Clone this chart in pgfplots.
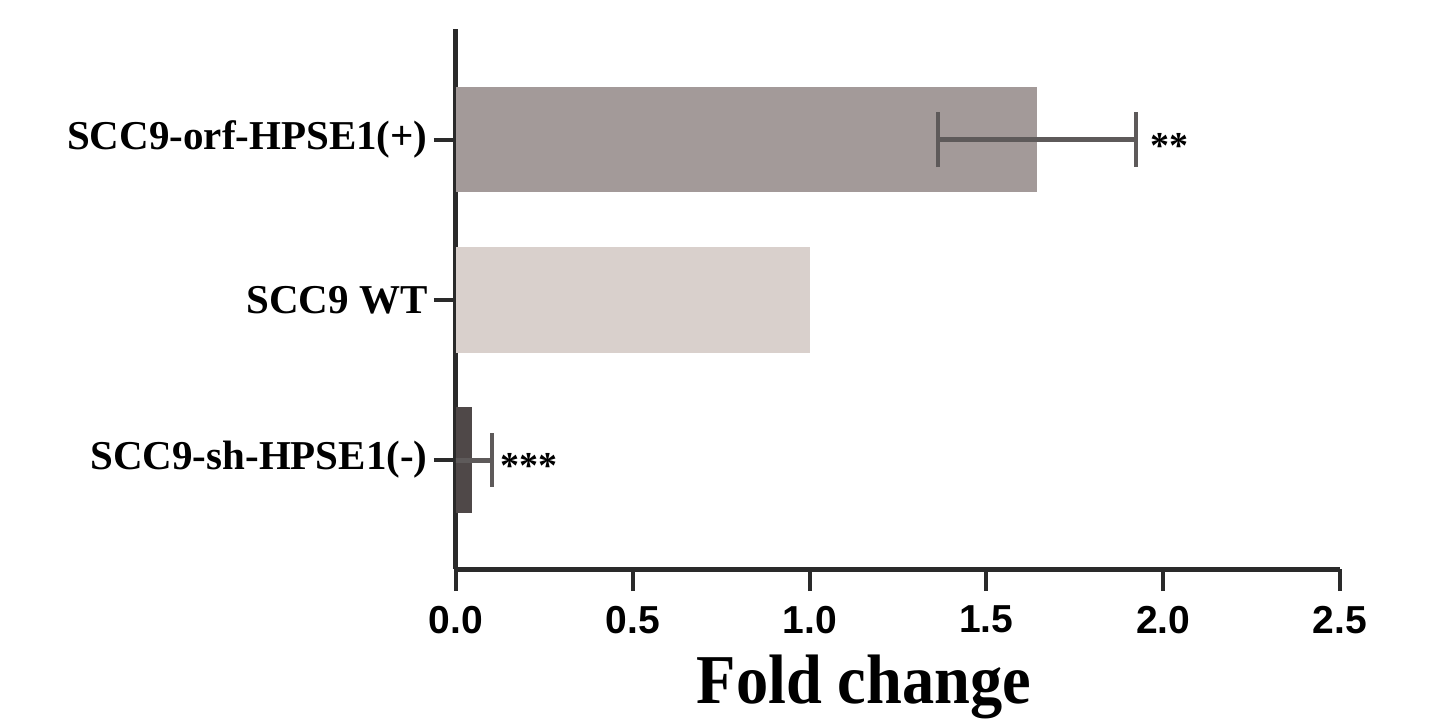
\documentclass[border=0pt]{standalone}
\usepackage{pgfplots}
\pgfplotsset{compat=1.18}
\usepackage{fontspec}
\setmainfont{Liberation Serif}
\newfontfamily\arialb{Liberation Sans}

\definecolor{barup}{HTML}{A39A99}
\definecolor{barwt}{HTML}{D9D0CC}
\definecolor{bardown}{HTML}{4F4848}
\definecolor{axiscol}{HTML}{2A2A2A}
\definecolor{errcol}{HTML}{5E5A5A}

\begin{document}
\begin{tikzpicture}
% canvas of the reference (1 px = 0.5pt), axis origin at (0,0)
\path[use as bounding box] (-228pt,-77.5pt) rectangle (494pt,284.5pt);
\begin{axis}[
    at={(0,0)}, anchor=south west,
    scale only axis,
    width=442pt, height=270pt,
    xmin=0, xmax=2.5,
    ymin=-0.68, ymax=2.69,
    axis x line*=bottom, axis y line*=left,
    axis line style={-, line width=2.5pt, color=axiscol},
    xtick={0,0.5,1,1.5,2,2.5},
    xticklabels={0.0,0.5,1.0,1.5,2.0,2.5},
    ytick={0,1,2},
    yticklabels={SCC9-sh-HPSE1(-),SCC9 WT,SCC9-orf-HPSE1(+)},
    tick align=outside,
    major tick length=11pt,
    tick style={line width=2pt, color=axiscol},
    xticklabel style={font=\arialb\bfseries\fontsize{19.5}{20}\selectfont, yshift=-4pt},
    yticklabel style={font=\bfseries\fontsize{20.5}{22}\selectfont, inner sep=1pt, xshift=-2pt},
    xlabel={\scalebox{0.92}[1]{Fold change}},
    xlabel style={font=\bfseries\fontsize{35}{36}\selectfont,
        at={(axis description cs:0.4615,0)}, anchor=base, yshift=-67pt},
    bar width=0.66,
]
\addplot[xbar, bar shift=0pt, fill=barup, draw=none,
    error bars/.cd, x dir=both, x explicit,
    error bar style={line width=2.5pt, color=errcol},
    error mark options={rotate=90, line width=2pt, mark size=13.75pt, color=errcol}]
    coordinates {(1.643,2) +- (0.28,0)};
\addplot[xbar, bar shift=0pt, fill=barwt, draw=none]
    coordinates {(1.0,1)};
\addplot[xbar, bar shift=0pt, fill=bardown, draw=none,
    error bars/.cd, x dir=both, x explicit,
    error bar style={line width=2.5pt, color=errcol},
    error mark options={rotate=90, line width=2pt, mark size=13.5pt, color=errcol}]
    coordinates {(0.045,0) +- (0.057,0)};
\node[anchor=west, font=\bfseries\fontsize{19}{20}\selectfont, inner sep=0pt, yshift=-3pt]
    at (axis cs:1.963,2) {**};
\node[anchor=west, font=\bfseries\fontsize{19}{20}\selectfont, inner sep=0pt, yshift=-3pt]
    at (axis cs:0.125,0) {***};
\end{axis}
\end{tikzpicture}
\end{document}
